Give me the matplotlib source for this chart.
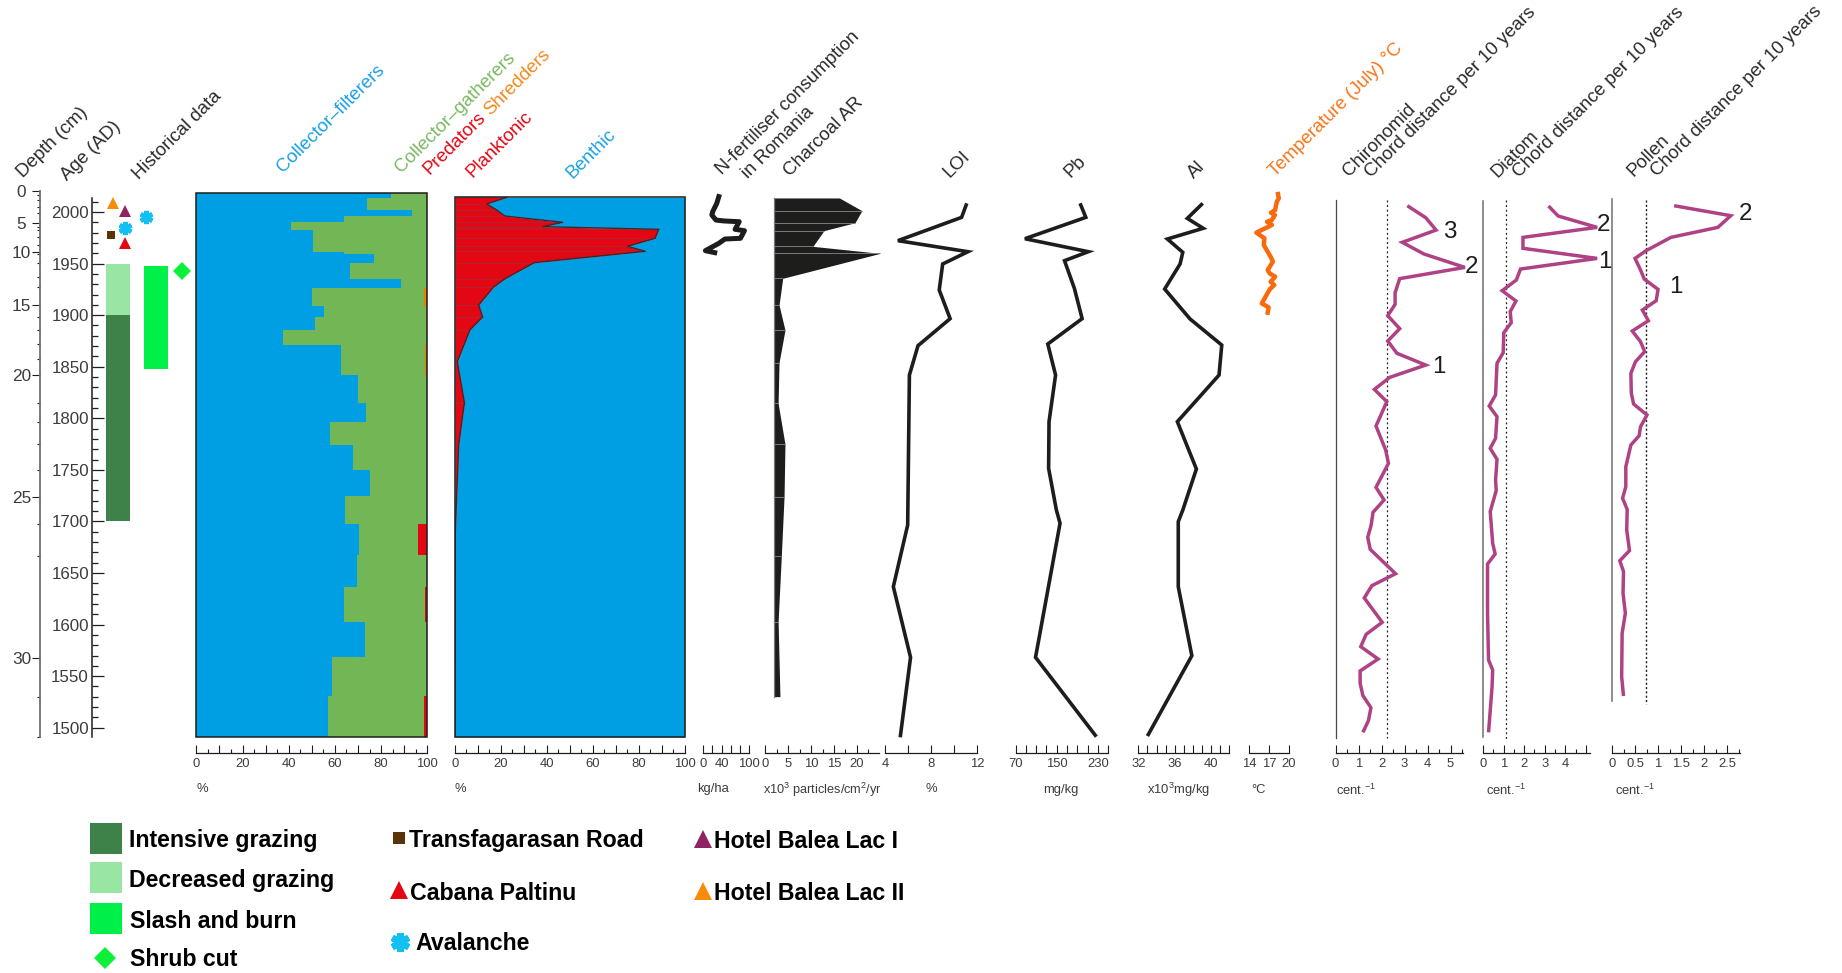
import numpy as np
import matplotlib
matplotlib.use("Agg")
import matplotlib.pyplot as plt
from matplotlib.patches import Rectangle

plt.rcParams['font.family'] = ['Liberation Sans', 'DejaVu Sans']
plt.rcParams['mathtext.default'] = 'regular'

W, H = 1842, 973
TOP, BOTTOM = 190, 737.3
DARK = '#1d1d1b'
TXT = '#3c3c3b'
PURPLE = '#ae4285'

#ages of the depth ticks (cm -> AD)
depth_ticks = [0, 1, 2, 3, 4, 5, 6, 7, 8, 9, 10, 11, 12, 13, 14, 15, 16, 17, 18, 19, 20, 21, 22, 23, 24, 25, 26, 27, 30, 31, 32]
depth_ages = [2020.4, 2016.5, 2011.6, 2004.8, 1999, 1989.6, 1985.5, 1982.5, 1975.8, 1968, 1961.2, 1959.3, 1950.6, 1937, 1927.3,
              1909.8, 1898.2, 1885.6, 1872, 1857.5, 1842, 1814.8, 1796.4, 1775, 1749.9, 1723.7, 1697.5, 1666.5, 1567.6, 1529.8, 1491]
depth_labels = [0, 5, 10, 15, 20, 25, 30]

#chironomid feeding groups, stepped
stack_edges = [2018.1, 2013.6, 2002, 1996.1, 1990.3, 1982.6, 1961.2, 1959.3, 1950.6, 1935, 1926.3, 1908.9, 1898.2, 1885.6, 1871,
               1842, 1814.8, 1796.4, 1774.1, 1749.9, 1724.6, 1697.5, 1667.4, 1636.4, 1602.5, 1568.5, 1530.7, 1491.3]
filterers = [84.3, 73.9, 93.4, 64, 41, 50.6, 64, 76.9, 66.6, 88.6, 50.1, 55.3, 51.4, 37.6, 62.7, 70, 73.5, 57.9, 67.9, 75.2, 64.3,
             70.5, 69.6, 64, 73.1, 58.8, 57]
shredders = [0.6, 0, 0, 0, 0, 0, 0, 0, 0, 0, 1.5, 0.7, 0.5, 0, 0.8, 0, 0, 0, 0, 0, 0, 0, 0, 0, 0, 0, 0]
predators = [0, 0, 0, 0, 0, 0, 0, 0, 0, 0, 0, 0, 0, 0, 0, 0, 0, 0, 0, 0, 0, 4, 0, 1, 0, 0, 1.5]

#diatoms
plank_age = [2014.2, 2007.8, 2002, 1996.1, 1990, 1985.8, 1983.2, 1974.5, 1966.7, 1961.9, 1950.9, 1935.4, 1927, 1909.8, 1898.2,
             1885.6, 1854.9, 1815.1, 1774.1, 1724, 1688.4, 1491]
plank_pct = [22.5, 13.8, 18.1, 21.8, 46.9, 38.2, 88.7, 87.1, 75, 82.9, 34.5, 21.8, 16.7, 10.3, 12, 6.5, 1, 4.1, 1.6, 0.7, 0.1, 0]

fert_age = [2014.9, 2008.4, 2000.3, 1997.1, 1992.2, 1991.3, 1990.6, 1983.2, 1981.9, 1974.5, 1973.8, 1969.6, 1962.5, 1960.6]
fert_val = [33.9, 29.5, 20.5, 18.75, 27.7, 45.5, 78.6, 69.6, 90, 81.3, 47.3, 33.9, 4.5, 25]

char_age = [2013.6, 2001.3, 1989.6, 1981.9, 1966.7, 1959.9, 1935.7, 1909.8, 1885.6, 1853.9, 1814.5, 1775, 1724, 1666.5, 1602.8, 1530.1]
char_val = [16.2, 21.1, 19.6, 12.8, 10.4, 25.1, 3.8, 3.0, 4.3, 3.0, 2.8, 4.3, 4.1, 3.5, 2.8, 3.2]

loi_age = [2008.4, 1994.8, 1972.2, 1961.5, 1949.6, 1924.4, 1896.6, 1870.4, 1841.9, 1696.5, 1636.7, 1568.2, 1490.7]
loi_val = [11.1, 10.65, 5.1, 11.2, 9.0, 8.7, 9.65, 6.85, 6.1, 5.95, 4.7, 6.2, 5.3]

pb_age = [2008.4, 1994.8, 1974.1, 1961.5, 1952.8, 1926, 1896.6, 1872, 1841.9, 1796.7, 1751.5, 1711, 1698.2, 1568.2, 1491.3]
pb_val = [195.4, 206.5, 88.3, 211.3, 165.2, 184.3, 199.4, 132.7, 147.8, 135.1, 134.3, 149.4, 156.5, 108.9, 227]

al_age = [2008.4, 1993.8, 1984.2, 1973.8, 1960.9, 1949.6, 1925.3, 1896.3, 1871, 1841.9, 1796.7, 1750.8, 1711, 1699.8, 1636.7, 1569.8, 1491.9]
al_val = [39.1, 37.4, 39.15, 35.2, 36.9, 36.6, 34.9, 37.7, 41.2, 40.9, 36.3, 38.4, 36.9, 36.4, 36.4, 37.9, 33]

temp_age = [2017.4, 2013.3, 2010, 2001.9, 1999.3, 1997.1, 1992.2, 1990.6, 1987.4, 1980, 1974.5, 1968, 1961.5, 1956, 1951.8, 1943.8,
            1940.5, 1937.3, 1932.4, 1929.2, 1925, 1911.4, 1907.6, 1902.4]
temp_val = [18.375, 18.5, 18.2, 17.94, 17.3, 17.9, 17.44, 16.7, 17.44, 15.06, 16.3, 16.2, 16.8, 17.3, 17.6, 16.8, 17.1, 17.94, 17.25,
            17.8, 17.1, 15.9, 16.94, 16.8]

#chord distances
chir_age = [2006.1, 1994.5, 1982.5, 1970.6, 1959.3, 1946.3, 1935.4, 1921.8, 1910.5, 1899.5, 1886.9, 1874.9, 1863, 1851.6, 1839.7,
            1828, 1816.1, 1792.5, 1769.2, 1756.3, 1733, 1720.8, 1708.8, 1696.5, 1684.6, 1672.9, 1649.3, 1637.7, 1625.8, 1602.2,
            1590.5, 1578.6, 1566.6, 1555, 1543, 1531.1, 1519.4, 1506.8, 1495.5]
chir_val = [3.12, 3.92, 4.37, 2.9, 3.84, 5.62, 2.79, 2.59, 2.59, 2.27, 2.79, 2.27, 2.67, 3.92, 2.36, 1.69, 2.23, 1.76, 2.18, 2.3,
            1.76, 2.11, 1.63, 1.55, 1.4, 1.51, 2.61, 1.58, 1.25, 2.03, 1.33, 1.1, 1.85, 1.07, 1.07, 1.19, 1.54, 1.43, 1.19]

diat_age = [2005.8, 1996.1, 1985.1, 1975.4, 1964.8, 1955, 1944.7, 1934.1, 1923.7, 1913.7, 1903.4, 1892.7, 1883, 1863.6, 1853.3,
            1822.6, 1811.9, 1801.6, 1780.6, 1770.9, 1760.2, 1740.2, 1729.8, 1709.5, 1678.8, 1668.4, 1658.7, 1610.9, 1565.6,
            1555.9, 1539.8, 1495.5]
diat_val = [3.18, 3.65, 5.54, 1.94, 1.94, 5.54, 1.82, 1.62, 0.93, 1.6, 1.32, 1.37, 1.01, 0.98, 0.68, 0.61, 0.3, 0.68, 0.61, 0.35,
            0.68, 0.61, 0.64, 0.35, 0.47, 0.59, 0.22, 0.22, 0.27, 0.47, 0.44, 0.27]

poll_age = [2006.1, 1996.4, 1985.1, 1975.4, 1962.5, 1955, 1943.8, 1935, 1925, 1914, 1905, 1894.6, 1884.6, 1874.3, 1864.6, 1854.9,
            1843.6, 1824.2, 1813.8, 1803.2, 1791.8, 1783.1, 1774.1, 1753, 1733.7, 1722.4, 1711.7, 1691.7, 1671.7, 1661.9,
            1651.3, 1630.3, 1610.9, 1591.5, 1549.5, 1530.7]
poll_val = [1.35, 2.58, 2.3, 1.28, 0.74, 0.5, 0.62, 0.7, 1.0, 0.96, 0.66, 0.79, 0.44, 0.62, 0.71, 0.51, 0.41, 0.42, 0.47, 0.76,
            0.62, 0.59, 0.41, 0.3, 0.3, 0.23, 0.33, 0.32, 0.38, 0.17, 0.25, 0.24, 0.29, 0.22, 0.21, 0.25]

#historical data
grazing_decreased = [1950, 1900]
grazing_intensive = [1900, 1700]
slash_burn = [1948, 1848]
event_ages = {'orange': 2009, 'purple': 2001.3, 'aval1': 1995.5, 'aval2': 1984.5, 'road': 1977.7, 'red': 1970.2, 'shrub': 1942.8}


def age_at(y):
    return 2000 - (y - 212) / 1.0314


fig = plt.figure(figsize=(W / 100, H / 100), dpi=100)
over = fig.add_axes([0, 0, 1, 1], zorder=5)
over.set_xlim(0, W)
over.set_ylim(H, 0)
over.axis('off')


def panel(x0, x1, xmin, xmax, y_top=TOP):
    ax = fig.add_axes([x0 / W, 1 - BOTTOM / H, (x1 - x0) / W, (BOTTOM - y_top) / H])
    ax.set_xlim(xmin, xmax)
    ax.set_ylim(age_at(BOTTOM), age_at(y_top))
    ax.patch.set_visible(False)
    for s in ax.spines.values():
        s.set_visible(False)
    ax.set_yticks([])
    return ax


def scale(ax, major, labels, minor=None, fs=9.4):
    sp = ax.spines['bottom']
    sp.set_visible(True)
    sp.set_position(('outward', 11.3))
    sp.set_color(DARK)
    sp.set_linewidth(0.9)
    ax.set_xticks(major)
    ax.set_xticklabels(labels, fontsize=fs, color=TXT)
    if minor is not None:
        ax.set_xticks(minor, minor=True)
    ax.tick_params(axis='x', which='major', direction='in', length=6, width=0.8, pad=3.5, color=DARK)
    ax.tick_params(axis='x', which='minor', direction='in', length=2.8, width=0.8, color=DARK)


def frame(ax):
    ax.add_patch(Rectangle((0, 0), 1, 1, transform=ax.transAxes, fill=False, ec=DARK, lw=1.1, clip_on=False, zorder=6))


def curve(ax, x, y, c=DARK, lw=2.6):
    ax.plot(x, y, color=c, lw=lw, clip_on=False, solid_joinstyle='miter', solid_capstyle='butt')


def steps(edges, vals):
    return np.repeat(edges, 2)[1:-1], np.repeat(vals, 2)


#depth axis
ax = panel(40, 60, 0, 1)
ax.spines['left'].set_visible(True)
ax.spines['left'].set_color('#6f6f6e')
ax.spines['left'].set_linewidth(1.3)
ax.spines['left'].set_bounds(depth_ages[-1], depth_ages[0])
ax.set_xticks([])
ax.set_yticks([depth_ages[depth_ticks.index(d)] for d in depth_labels])
ax.set_yticklabels([str(d) for d in depth_labels], fontsize=12.4, color=TXT, ha='center')
ax.set_yticks(depth_ages, minor=True)
ax.tick_params(axis='y', which='major', direction='out', length=5.5, width=0.8, pad=7.8, color=DARK)
ax.tick_params(axis='y', which='minor', direction='out', length=2.5, width=0.8, color=DARK)

#age axis
ax = panel(91.7, 105, 0, 1)
ax.spines['left'].set_visible(True)
ax.spines['left'].set_color(DARK)
ax.spines['left'].set_linewidth(1.1)
ax.spines['left'].set_bounds(age_at(BOTTOM), 2013.3)
ax.set_xticks([])
ax.set_yticks(np.arange(1500, 2001, 50))
ax.set_yticklabels([str(a) for a in range(1500, 2001, 50)], fontsize=12.2, color=TXT)
ax.set_yticks(np.arange(1510, 2011, 10), minor=True)
ax.tick_params(axis='y', which='major', direction='in', length=8.4, width=0.9, pad=2, color=DARK)
ax.tick_params(axis='y', which='minor', direction='in', length=4, width=0.9, color=DARK)

#historical data, x in pixels since the columns have no scale
ax = panel(100, 195, 100, 195)
ax.set_xticks([])
ax.fill_betweenx(grazing_decreased, 106, 130, color='#99e6a4', lw=0)
ax.fill_betweenx(grazing_intensive, 106, 130, color='#3f8249', lw=0)
ax.fill_betweenx(slash_burn, 144, 168, color='#00f04a', lw=0)
ax.plot(113, event_ages['orange'], '^', color='#f98b0a', ms=9.2, mew=0, clip_on=False)
ax.plot(125, event_ages['purple'], '^', color='#8e2464', ms=9.2, mew=0, clip_on=False)
ax.plot(145.7, event_ages['aval1'], marker=(6, 2, 0), color='#12c1f2', ms=9.5, mew=3.2, clip_on=False)
ax.plot(125.3, event_ages['aval2'], marker=(6, 2, 0), color='#12c1f2', ms=9.5, mew=3.2, clip_on=False)
ax.plot(111, event_ages['road'], 's', color='#5a3408', ms=6.3, mew=0, clip_on=False)
ax.plot(125, event_ages['red'], '^', color='#e30613', ms=9.2, mew=0, clip_on=False)
ax.plot(181.7, event_ages['shrub'], 'D', color='#0cf03a', ms=9, mew=0, clip_on=False)

#feeding groups
ax = panel(196.3, 427.3, 0, 100, y_top=193)
y, b = steps(stack_edges, filterers)
_, o = steps(stack_edges, shredders)
_, r = steps(stack_edges, predators)
ax.fill_betweenx(y, 0, b, color='#009fe3', lw=0)
ax.fill_betweenx(y, b, 100, color='#72b656', lw=0)
ax.fill_betweenx(y, 100 - o, 100, color='#ef7d00', lw=0, where=o > 0)
ax.fill_betweenx(y, 100 - r, 100, color='#e30613', lw=0, where=r > 0)
frame(ax)
scale(ax, np.arange(0, 101, 10), [str(v) if v % 20 == 0 else '' for v in range(0, 101, 10)], np.arange(5, 100, 10))

#planktonic / benthic
ax = panel(455, 684.7, 0, 100, y_top=197.3)
ax.fill_betweenx(plank_age, plank_pct, 100, color='#009fe3', lw=0)
ax.fill_betweenx(plank_age, 0, plank_pct, color='#e30613', lw=0)
ax.hlines(plank_age[:19], 0, plank_pct[:19], color='#9c3040', lw=0.5)
ax.plot(plank_pct, plank_age, color='#3a2a2e', lw=1.0, solid_joinstyle='miter')
frame(ax)
scale(ax, np.arange(0, 101, 10), [str(v) if v % 20 == 0 else '' for v in range(0, 101, 10)], np.arange(5, 100, 10))

#N-fertiliser
ax = panel(703.3, 749, 0, 100)
ax.plot(fert_val, fert_age, color=DARK, lw=3.6, clip_on=False, solid_joinstyle='round')
scale(ax, np.arange(0, 101, 20), ['0', '', '40', '', '', '100'])

#charcoal
ax = panel(765.3, 878.8, 0, 24.8)
ax.fill_betweenx(char_age, 2, char_val, color=DARK, lw=0, clip_on=False)
ax.hlines(char_age[1:-1], 2, char_val[1:-1], color='#7a7a7a', lw=0.7, clip_on=False, zorder=3)
ax.plot([2, 2], [char_age[0], char_age[-1]], color='#7a7a7a', lw=0.9)
scale(ax, np.arange(0, 21, 5), ['0', '5', '10', '15', '20'], np.arange(2.5, 24, 5))

#LOI
ax = panel(885.3, 977.1, 4, 12)
curve(ax, loi_val, loi_age)
scale(ax, np.arange(4, 13, 2), ['4', '', '8', '', '12'])

#Pb
ax = panel(1015.5, 1108.2, 70, 250)
curve(ax, pb_val, pb_age)
scale(ax, np.arange(70, 251, 20), ['70', '', '', '', '150', '', '', '', '230', ''])

#Al
ax = panel(1138.4, 1229, 32, 42)
curve(ax, al_val, al_age)
scale(ax, np.arange(32, 43, 1), ['32', '', '', '', '36', '', '', '', '40', '', ''])

#temperature
ax = panel(1249.4, 1288.6, 14, 20)
ax.plot(temp_val, temp_age, color='#f96a0c', lw=3.2, clip_on=False, solid_joinstyle='round')
scale(ax, [14, 17, 20], ['14', '17', '20'])

#chord distance panels
ax = panel(1335.5, 1463, 0, 5.54)
ax.plot([0, 0], [2011.6, age_at(738)], color='#4a4a49', lw=0.9, clip_on=False)
ax.plot([2.24, 2.24], [2012, age_at(738)], color=DARK, lw=0.9, ls=(0, (1.5, 2.2)), clip_on=False)
curve(ax, chir_val, chir_age, c=PURPLE, lw=2.5)
scale(ax, np.arange(0, 6), ['0', '1', '2', '3', '4', '5'], np.arange(0.5, 5.6, 1))

ax = panel(1483, 1589.5, 0, 5.17)
ax.plot([0, 0], [2010.7, age_at(737.3)], color='#6f6f6e', lw=1.1, clip_on=False)
ax.plot([1.115, 1.115], [2012, age_at(739)], color=DARK, lw=0.9, ls=(0, (1.5, 2.2)), clip_on=False)
curve(ax, diat_val, diat_age, c=PURPLE, lw=2.5)
scale(ax, np.arange(0, 6), ['0', '1', '2', '3', '4', ''], np.arange(0.5, 5.1, 1))

ax = panel(1612, 1739.5, 0, 2.77)
ax.plot([0, 0], [2012.3, 1526.2], color='#6f6f6e', lw=1.1, clip_on=False)
ax.plot([0.744, 0.744], [2012, 1523], color=DARK, lw=1.0, ls=(0, (1.5, 1.6)), clip_on=False)
curve(ax, poll_val, poll_age, c=PURPLE, lw=2.5)
scale(ax, np.arange(0, 2.6, 0.5), ['0', '0.5', '1', '1.5', '2', '2.5'], np.arange(0.25, 2.76, 0.5))

#zone numbers next to the chord curves
zones = [('3', 1450, 232), ('2', 1471.5, 267.3), ('1', 1439, 367), ('2', 1603.5, 225), ('1', 1604.5, 261.7), ('2', 1745.5, 214), ('1', 1675.5, 287.3)]
for t, x, y in zones:
    over.text(x, y, t, fontsize=17.4, color=DARK, ha='center', va='center')

#rotated headers
headers = [('Depth (cm)', 23, 178, '#2b2a29'), ('Age (AD)', 67, 181, '#2b2a29'), ('Historical data', 139, 180, '#2b2a29'),
           ('Collector\u2013filterers', 283, 173, '#1ba0e2'), ('Collector\u2013gatherers', 401, 173, '#7ab960'),
           ('Predators', 429, 175, '#e30613'), ('Shredders', 490, 116, '#f18a1c'), ('Planktonic', 472, 178, '#e30613'),
           ('Benthic', 572, 179, '#1ba0e2'), ('N-fertiliser consumption', 722, 175, '#2b2a29'), ('in Romania', 748, 179, '#2b2a29'),
           ('Charcoal AR', 790, 177, '#2b2a29'), ('LOI', 949, 178, '#2b2a29'), ('Pb', 1070, 178, '#2b2a29'), ('Al', 1194, 179, '#2b2a29'),
           ('Temperature (July) \u00b0C', 1275, 177, '#f7741a'), ('Chironomid', 1349, 177, '#2b2a29'),
           ('Chord distance per 10 years', 1371, 178, '#2b2a29'), ('Diatom', 1497, 178, '#2b2a29'),
           ('Chord distance per 10 years', 1519, 178, '#2b2a29'), ('Pollen', 1633, 177, '#2b2a29'),
           ('Chord distance per 10 years', 1657, 177, '#2b2a29')]
for t, x, y, c in headers:
    over.text(x, y, t, fontsize=13.4, color=c, rotation=45, rotation_mode='anchor', ha='left', va='baseline')

#units under the scales
units = [('%', 202, 789, 9.4), ('%', 460, 789, 9.4), ('kg/ha', 712.7, 789, 9.4), ('x10$^{3}$ particles/cm$^{2}$/yr', 822, 790, 9.2),
         ('%', 931, 789, 9.4), ('mg/kg', 1060.4, 790, 9.4), ('x10$^{3}$mg/kg', 1178.8, 790, 9.4), ('\u00b0C', 1258.3, 790, 9.4),
         ('cent.$^{-1}$', 1356, 790, 9.4), ('cent.$^{-1}$', 1506, 790, 9.4), ('cent.$^{-1}$', 1635.5, 790, 9.4)]
for t, x, y, fs in units:
    over.text(x, y, t, fontsize=fs, color=TXT, ha='center', va='center')

#legend
for y0, c in [(823, '#3f8249'), (862, '#99e6a4'), (903, '#00f04a')]:
    over.add_patch(Rectangle((90, y0), 31.7, 31, fc=c, ec='none'))
over.plot(105, 957.5, 'D', color='#0cf03a', ms=11.5, mew=0)
over.plot(399, 838, 's', color='#5a3408', ms=8.2, mew=0)
over.plot(398.5, 890, '^', color='#e30613', ms=12.5, mew=0)
over.plot(399.5, 941.7, marker=(6, 2, 0), color='#12c1f2', ms=13.5, mew=4.6)
over.plot(702.5, 839, '^', color='#8e2464', ms=12.5, mew=0)
over.plot(702.5, 890.7, '^', color='#f98b0a', ms=12.5, mew=0)
legend_text = [('Intensive grazing', 129, 841), ('Decreased grazing', 129, 881), ('Slash and burn', 130, 922), ('Shrub cut', 130, 959.5),
               ('Transfagarasan Road', 409, 840.5), ('Cabana Paltinu', 410, 893.5), ('Avalanche', 415, 943.5),
               ('Hotel Balea Lac I', 714, 842), ('Hotel Balea Lac II', 714, 893.5)]
for t, x, y in legend_text:
    over.text(x, y, t, fontsize=16.7, fontweight='bold', color='black', ha='left', va='center')

fig.savefig('out.png', dpi=100)
